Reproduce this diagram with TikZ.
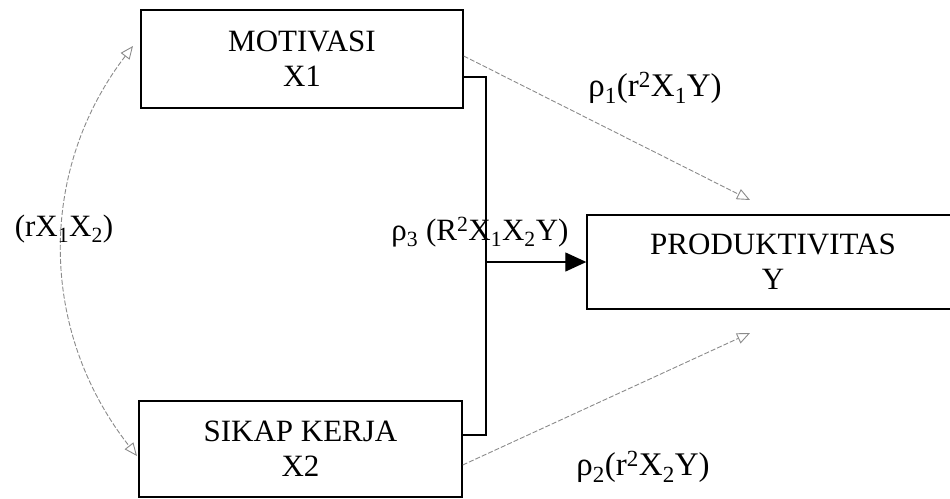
\documentclass[tikz,border=0pt]{standalone}
\usepackage{fontspec}
\setmainfont{Liberation Serif}
\usetikzlibrary{arrows.meta,positioning}
\definecolor{inkgray}{HTML}{8A8A8A}

\begin{document}
\begin{tikzpicture}[
  x=1pt, y=-1pt,
  >=Latex,
  varbox/.style={draw=black, line width=1.4pt, align=center, inner sep=0pt,
    font=\fontsize{31}{35}\selectfont},
  coef/.style={font=\fontsize{31}{34}\selectfont, inner sep=0pt},
  rhocoef/.style={coef, font=\fontsize{33}{36}\selectfont},
  solid link/.style={draw=black, line width=1.3pt},
  path link/.style={draw=inkgray, line width=0.9pt, dash pattern=on 5pt off 2pt,
    -{Triangle[open, length=13pt, width=11pt]}},
  corr link/.style={draw=inkgray, line width=0.9pt, dash pattern=on 5pt off 2pt,
    {Triangle[open, length=13pt, width=11pt]}-{Triangle[open, length=13pt, width=11pt]}}
]
\useasboundingbox (0,0) rectangle (950,498);
\clip (0,0) rectangle (950,498);

\node[varbox, minimum width=322pt, minimum height=98pt] (motivasi) at (302,59) {MOTIVASI\\X1};
\node[varbox, minimum width=323pt, minimum height=96pt] (sikap) at (300.5,449) {SIKAP KERJA\\X2};
\node[varbox, minimum width=372pt, minimum height=94pt] (produk) at (773,262) {PRODUKTIVITAS\\Y};

% joint path
\coordinate (jtop) at (486,77);
\coordinate (jbot) at (486,435);
\coordinate (jmid) at (486,262);
\draw[solid link] (motivasi.east |- jtop) -- (jtop) -- (jbot) -- (sikap.east |- jbot);
\draw[solid link, -{Triangle[length=21pt, width=19pt]}] (jmid) -- (produk.west);

% partial paths
\coordinate (p1tip) at (750,200);
\coordinate (p2tip) at (750,333);
\draw[path link] ([yshift=3pt]motivasi.east) -- (p1tip);
\draw[path link] ([yshift=-16pt]sikap.east) -- (p2tip);

% correlation
\coordinate (ctop) at (133,46);
\coordinate (cbot) at (137,456);
\draw[corr link] (ctop) .. controls (38,170) and (38,330) .. (cbot);

\node[coef] (rx) at (64,229) {(rX\textsubscript{1}X\textsubscript{2})};
\node[rhocoef] (rho1) at (655,88) {ρ\textsubscript{1}(r\textsuperscript{2}X\textsubscript{1}Y)};
\node[coef] (rho3) at (480,232) {ρ\textsubscript{3} (R\textsuperscript{2}X\textsubscript{1}X\textsubscript{2}Y)};
\node[rhocoef] (rho2) at (643,467) {ρ\textsubscript{2}(r\textsuperscript{2}X\textsubscript{2}Y)};
\end{tikzpicture}
\end{document}
